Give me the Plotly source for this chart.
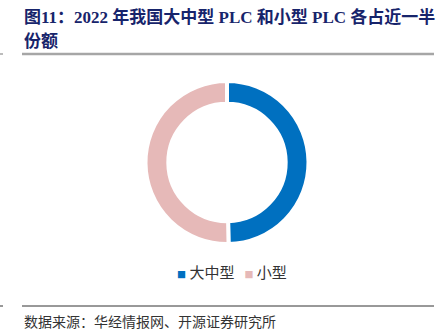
import plotly.graph_objects as go

labels = ["大中型", "小型"]
values = [49.7, 50.3]
colors = ["#0070C0", "#E6B9B8"]

title_line1 = "图11：2022 年我国大中型 PLC 和小型 PLC 各占近一半"
title_line2 = "份额"
source_text = "数据来源：华经情报网、开源证券研究所"

W, H = 439, 333

fig = go.Figure()
fig.add_trace(go.Pie(
    labels=labels, values=values,
    marker=dict(colors=colors, line=dict(color="white", width=4)),
    hole=0.72, sort=False, direction="clockwise", rotation=0,
    textinfo="none", hoverinfo="label+percent", showlegend=False,
    domain=dict(x=[(227 - 81.5) / W, (227 + 81.5) / W],
                y=[(170.5 - 81.5) / H, (170.5 + 81.5) / H]),
))

title_font = dict(family="Liberation Serif, Noto Sans CJK SC", size=17, color="#17246b")
anns = [
    dict(text="<b>" + title_line1 + "</b>", x=22 / W, y=1 - 5 / H, xref="paper", yref="paper",
         xanchor="left", yanchor="top", showarrow=False, font=title_font),
    dict(text="<b>" + title_line2 + "</b>", x=22 / W, y=1 - 30 / H, xref="paper", yref="paper",
         xanchor="left", yanchor="top", showarrow=False, font=title_font),
    dict(text=source_text, x=22 / W, y=1 - 321 / H, xref="paper", yref="paper",
         xanchor="left", yanchor="middle", showarrow=False,
         font=dict(family="Noto Sans CJK SC", size=14, color="#333333")),
]

legend_parts = []
for lab, col in zip(labels, colors):
    legend_parts.append(f"<span style='color:{col};font-size:9px'>■</span> {lab}")
anns.append(dict(text="   ".join(legend_parts), x=232 / W, y=1 - 271 / H, xref="paper", yref="paper",
                 xanchor="center", yanchor="middle", showarrow=False,
                 font=dict(family="Noto Sans CJK SC", size=15, color="#333333")))

shapes = [
    dict(type="line", xref="paper", yref="paper", x0=22 / W, x1=434 / W, y0=1 - 54 / H, y1=1 - 54 / H,
         line=dict(color="#A6A6A6", width=2.5)),
    dict(type="line", xref="paper", yref="paper", x0=0, x1=3 / W, y0=1 - 54 / H, y1=1 - 54 / H,
         line=dict(color="#A6A6A6", width=1.5)),
    dict(type="line", xref="paper", yref="paper", x0=22 / W, x1=434 / W, y0=1 - 306 / H, y1=1 - 306 / H,
         line=dict(color="#333333", width=1)),
    dict(type="line", xref="paper", yref="paper", x0=0, x1=3 / W, y0=1 - 306 / H, y1=1 - 306 / H,
         line=dict(color="#333333", width=1)),
]

fig.update_layout(
    width=W, height=H, margin=dict(l=0, r=0, t=0, b=0),
    paper_bgcolor="white", plot_bgcolor="white",
    annotations=anns, shapes=shapes,
)

fig.write_html("out.html")
